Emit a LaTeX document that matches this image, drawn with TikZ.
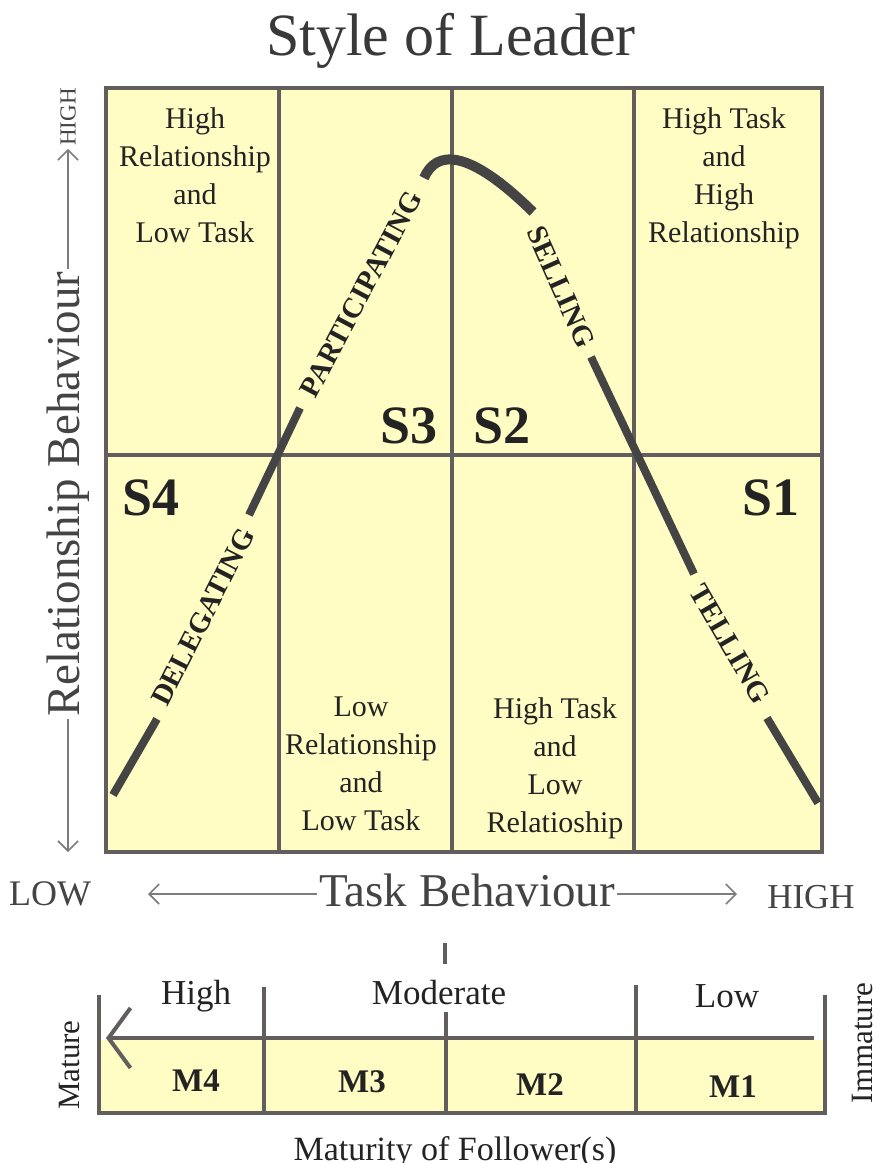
\documentclass[tikz,border=0pt]{standalone}
\usepackage{fontspec}
\IfFontExistsTF{LiberationSerif-Regular.ttf}
  {\setmainfont{LiberationSerif}[Extension=.ttf, UprightFont=*-Regular, BoldFont=*-Bold,
     ItalicFont=*-Italic, BoldItalicFont=*-BoldItalic]}
  {\setmainfont{Liberation Serif}}
\usetikzlibrary{arrows.meta,positioning}
\newcommand{\pxfont}[2]{\fontsize{#1}{#2}\selectfont}
\definecolor{cellfill}{RGB}{255,252,196}
\definecolor{gridgrey}{RGB}{98,94,94}
\definecolor{stylegrey}{RGB}{68,68,68}
\definecolor{axisgrey}{RGB}{125,125,125}
\definecolor{ink}{RGB}{35,35,35}
\tikzset{
  gridframe/.style={draw=gridgrey, line width=4.5pt},
  gridline/.style={draw=gridgrey, line width=3.2pt},
  qtext/.style={align=center, inner sep=0pt, text=ink, font=\rmfamily\pxfont{30}{38}},
  slbl/.style={inner sep=0pt, text=ink, font=\rmfamily\pxfont{54}{54}\bfseries},
  phase/.style={draw=stylegrey, line width=8pt},
  phaselbl/.style={inner sep=0pt, text=ink, font=\rmfamily\pxfont{29}{29}\bfseries},
  axlbl/.style={inner sep=2pt, text=ink!85, font=\rmfamily\pxfont{47}{47}},
  axarr/.style={-{Straight Barb[length=10pt,width=20pt]}, draw=axisgrey, line width=1.6pt},
}

\begin{document}
\begin{tikzpicture}[x=1pt,y=-1pt,
  % lower strip: follower maturity scale
  scaleline/.style={draw=gridgrey, line width=4pt},
  sctext/.style={inner sep=0pt, text=ink, font=\rmfamily\pxfont{35}{35}},
  mlbl/.style={inner sep=0pt, text=ink, font=\rmfamily\pxfont{33}{33}\bfseries},
]
\useasboundingbox[fill=white] (0,0) rectangle (877,1163);

% ================= title =================
\node[anchor=base, text=ink!90, font=\rmfamily\pxfont{60}{60}] (title) at (451,55) {Style of Leader};

% ================= grid of the four styles =================
\fill[cellfill] (106,88) rectangle (822,852);
\foreach \x in {279,452,634}
  \draw[gridline] (\x,88) -- (\x,852);
\draw[gridline] (106,455) -- (822,455);
\draw[gridframe] (106,88) rectangle (822,852);

\node[qtext, anchor=north] (hrlt) at (195,107) {High\\Relationship\\and\\Low Task};
\node[qtext, anchor=north] (hthr) at (724,107) {High Task\\and\\High\\Relationship};
\node[qtext, anchor=north] (lrlt) at (361,697) {Low\\Relationship\\and\\Low Task};
\node[qtext, anchor=north] (htlr) at (555,697) {High Task\\and\\Low\\Relatioship};

\node[slbl, anchor=base east] (s3) at (438,443) {S3};
\node[slbl, anchor=base west] (s2) at (473,443) {S2};
\node[slbl, anchor=base west] (s4) at (122,515) {S4};
\node[slbl, anchor=base east] (s1) at (800,515) {S1};

% ================= leadership curve =================
\draw[phase] (113,795) -- (157,719);
\draw[phase] (249,515) -- (300,408);
\draw[phase, line width=10pt] (424,178) .. controls (436,150) and (468,148) .. (533,212);
\draw[phase] (591,357) -- (694,574);
\draw[phase] (767,718) -- (818,803);

\node[phaselbl, rotate=63]  (deleg) at (203,617) {DELEGATING};
\node[phaselbl, rotate=62]  (partic) at (361,294) {PARTICIPATING};
\node[phaselbl, rotate=-66] (sell) at (561,287) {SELLING};
\node[phaselbl, rotate=-60] (tell) at (730,644) {TELLING};

% ================= axes =================
\node[axlbl, rotate=90] (relax) at (68,494) {Relationship Behaviour};
\node[rotate=90, inner sep=3pt, text=ink!85, font=\rmfamily\pxfont{23}{23}] (relhigh) at (68,117) {HIGH};
\coordinate (relbot) at (68,852);
\draw[axarr] (relax.east) -- (relhigh.west);
\draw[axarr] (relax.west) -- (relbot);

\node[axlbl, anchor=base] (taskax) at (467,906) {Task Behaviour};
\node[anchor=base, inner sep=0pt, text=ink!85, font=\rmfamily\pxfont{36}{36}] (tasklow) at (50,905) {LOW};
\node[anchor=base, inner sep=0pt, text=ink!85, font=\rmfamily\pxfont{35}{35}] (taskhigh) at (811,908) {HIGH};
\coordinate (tasklo) at (148,894);
\coordinate (taskhi) at (737,894);
\draw[axarr] (taskax.west |- tasklo) -- (tasklo);
\draw[axarr] (taskax.east |- taskhi) -- (taskhi);

% ================= maturity scale =================
\draw[scaleline] (445,943) -- (445,964);
\fill[cellfill] (99,1040) rectangle (825,1113);
\draw[scaleline] (99,995) -- (99,1113) -- (825,1113) -- (825,995);
\foreach \x/\top in {264/987, 446/1012, 636/985}
  \draw[scaleline] (\x,\top) -- (\x,1113);
\coordinate (matlo) at (106,1038);
\coordinate (mathi) at (814,1038);
\draw[scaleline, -{Straight Barb[length=22pt,width=60pt]}] (mathi) -- (matlo);

\node[sctext, anchor=base] (mhigh) at (196,1004) {High};
\node[sctext, anchor=base] (mmod) at (439,1004) {Moderate};
\node[sctext, anchor=base] (mlow) at (727,1007) {Low};

\node[mlbl, anchor=base] (m4) at (196,1091) {M4};
\node[mlbl, anchor=base] (m3) at (362,1092) {M3};
\node[mlbl, anchor=base] (m2) at (540,1095) {M2};
\node[mlbl, anchor=base] (m1) at (733,1097) {M1};

\node[sctext, rotate=90, font=\rmfamily\pxfont{31}{31}] (mature) at (70,1065) {Mature};
\node[sctext, rotate=90, font=\rmfamily\pxfont{31}{31}] (immature) at (862,1043) {Immature};

\node[sctext, anchor=base, font=\rmfamily\pxfont{34}{34}] (matfol) at (455,1160) {Maturity of Follower(s)};

\end{tikzpicture}
\end{document}
